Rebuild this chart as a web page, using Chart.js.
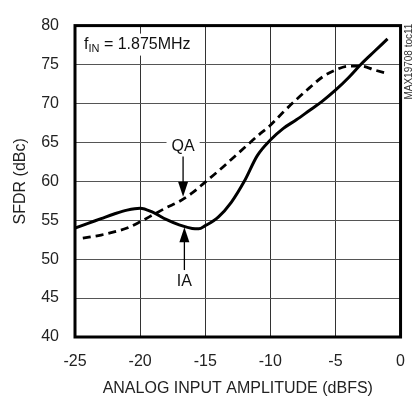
<!DOCTYPE html>
<html>
<head>
<meta charset="utf-8">
<script src="https://cdn.jsdelivr.net/npm/chart.js@4"></script>
<style>
	html, body { margin: 0; padding: 0; background: #fff; }
	#wrap { width: 420px; height: 399px; }
</style>
</head>
<body>
<div id="wrap"><canvas id="sfdrChart" width="420" height="399"></canvas></div>
<script>
// данные кривых
const iaX = [-25, -24, -23, -22, -21, -20, -19, -18, -17, -16, -15.5, -15, -14, -13, -12, -11, -10, -9, -8, -7, -6, -5, -4, -3, -2, -1];
const iaY = [54.0, 54.6, 55.2, 55.8, 56.3, 56.55, 56.0, 55.1, 54.4, 53.95, 53.9, 54.3, 55.4, 57.3, 60.0, 63.3, 65.3, 66.8, 67.9, 69.1, 70.3, 71.7, 73.3, 75.1, 76.7, 78.3];

const qaX = [-24.4, -23, -22, -21, -20, -19, -18, -17, -16, -15, -14, -13, -12, -11, -10, -9, -8, -7, -6, -5, -4, -3, -2, -0.9];
const qaY = [52.7, 53.1, 53.5, 54.0, 54.8, 55.7, 56.6, 57.4, 58.5, 59.9, 61.3, 62.8, 64.3, 65.8, 67.2, 68.9, 70.5, 72.0, 73.4, 74.3, 74.8, 74.8, 74.3, 73.8];

const xTicks = [-25, -20, -15, -10, -5, 0];
const yTicks = [40, 45, 50, 55, 60, 65, 70, 75, 80];

const FONT = "'Liberation Sans Narrow', 'Arial Narrow', 'Liberation Sans', sans-serif";

const toPoints = (xs, ys) => xs.map((x, i) => ({ x: x, y: ys[i] }));

// рамка и подписи поверх графика
const overlayPlugin = {
	id: "overlay",
	afterDraw(chart) {
		const { ctx, chartArea: a, scales } = chart;
		const xs = scales.x, ys = scales.y;
		ctx.save();

		// толстая рамка
		ctx.strokeStyle = "#000";
		ctx.lineWidth = 3;
		ctx.strokeRect(a.left, a.top, a.right - a.left, a.bottom - a.top);

		// f_IN = 1.875MHz
		ctx.textBaseline = "alphabetic";
		ctx.textAlign = "left";
		let tx = a.left + 9, ty = a.top + 23;
		ctx.font = "16px " + FONT;
		const w1 = ctx.measureText("f").width;
		ctx.font = "11px " + FONT;
		const w2 = ctx.measureText("IN").width;
		ctx.font = "16px " + FONT;
		const w3 = ctx.measureText(" = 1.875MHz").width;
		ctx.fillStyle = "#fff";
		ctx.fillRect(tx - 2, ty - 15, w1 + w2 + w3 + 4, 22);
		ctx.fillStyle = "#111";
		ctx.fillText("f", tx, ty);
		ctx.font = "11px " + FONT;
		ctx.fillText("IN", tx + w1, ty + 3);
		ctx.font = "16px " + FONT;
		ctx.fillText(" = 1.875MHz", tx + w1 + w2, ty);

		// стрелка с подписью
		function arrowLabel(text, lx, ly, y0, y1) {
			const px = xs.getPixelForValue(lx);
			const py = ys.getPixelForValue(ly);
			ctx.font = "16px " + FONT;
			ctx.textAlign = "center";
			ctx.textBaseline = "middle";
			const tw = ctx.measureText(text).width;
			ctx.fillStyle = "#fff";
			ctx.fillRect(px - tw / 2 - 5, py - 9, tw + 10, 18);
			ctx.fillStyle = "#111";
			ctx.fillText(text, px, py + 1);

			const p0 = ys.getPixelForValue(y0);
			const p1 = ys.getPixelForValue(y1);
			const dir = p1 > p0 ? 1 : -1;
			ctx.strokeStyle = "#000";
			ctx.lineWidth = 1.3;
			ctx.beginPath();
			ctx.moveTo(px, p0);
			ctx.lineTo(px, p1 - dir * 12);
			ctx.stroke();
			ctx.beginPath();
			ctx.moveTo(px, p1);
			ctx.lineTo(px - 5, p1 - dir * 15);
			ctx.lineTo(px + 5, p1 - dir * 15);
			ctx.closePath();
			ctx.fillStyle = "#000";
			ctx.fill();
		}
		arrowLabel("QA", -16.7, 64.6, 63.2, 58.0);
		arrowLabel("IA", -16.6, 47.2, 48.6, 54.1);

		// код рисунка справа
		ctx.save();
		ctx.translate(a.right + 9, a.top + 36);
		ctx.rotate(-Math.PI / 2);
		ctx.font = "10px " + FONT;
		ctx.fillStyle = "#333";
		ctx.textAlign = "center";
		ctx.textBaseline = "middle";
		ctx.fillText("MAX19708 toc11", 0, 0);
		ctx.restore();

		ctx.restore();
	},
};

const ctx = document.getElementById("sfdrChart");

const config = {
	type: "scatter",
	data: {
		datasets: [
			{
				label: "IA",
				data: toPoints(iaX, iaY),
				showLine: true,
				borderColor: "#000",
				borderWidth: 3,
				pointRadius: 0,
				cubicInterpolationMode: "monotone",
			},
			{
				label: "QA",
				data: toPoints(qaX, qaY),
				showLine: true,
				borderColor: "#000",
				borderWidth: 2.8,
				borderDash: [8, 5],
				pointRadius: 0,
				cubicInterpolationMode: "monotone",
			},
		],
	},
	options: {
		responsive: false,
		animation: false,
		events: [],
		layout: {
			padding: { top: 10, right: 16, left: 0, bottom: 0 },
		},
		plugins: {
			legend: { display: false },
			tooltip: { enabled: false },
		},
		scales: {
			x: {
				type: "linear",
				min: -25,
				max: 0,
				afterBuildTicks: (scale) => {
					scale.ticks = xTicks.map((v) => ({ value: v }));
				},
				afterFit: (scale) => {
					scale.height = 62;
				},
				grid: { color: "#333", lineWidth: 1, drawTicks: false },
				border: { display: false },
				ticks: {
					padding: 15,
					color: "#222",
					font: { family: FONT, size: 16 },
				},
				title: {
					display: true,
					text: "ANALOG INPUT AMPLITUDE (dBFS)",
					color: "#222",
					font: { family: FONT, size: 16 },
					padding: { top: 0, bottom: 1 },
				},
			},
			y: {
				type: "linear",
				min: 40,
				max: 80,
				afterBuildTicks: (scale) => {
					scale.ticks = yTicks.map((v) => ({ value: v }));
				},
				afterFit: (scale) => {
					scale.width = 75;
				},
				grid: { color: "#555", lineWidth: 1, drawTicks: false },
				border: { display: false },
				ticks: {
					padding: 16,
					color: "#222",
					font: { family: FONT, size: 16 },
				},
				title: {
					display: true,
					text: "SFDR (dBc)",
					color: "#222",
					font: { family: FONT, size: 16 },
					padding: { top: 11, bottom: 0 },
				},
			},
		},
	},
	plugins: [overlayPlugin],
};

const sfdrChart = new Chart(ctx, config);
</script>
</body>
</html>
